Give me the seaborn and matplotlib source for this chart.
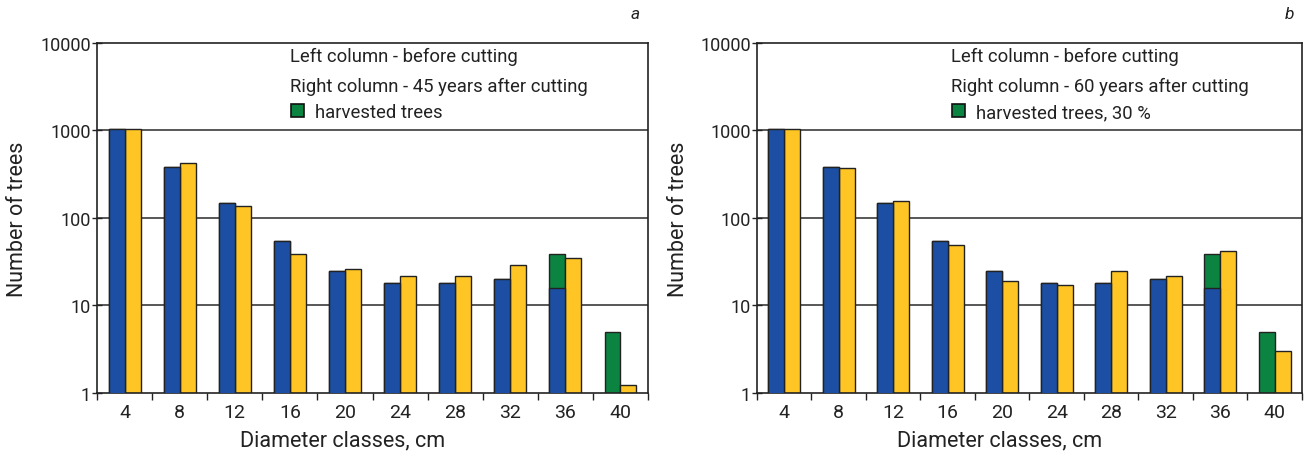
import numpy as np
import pandas as pd
import matplotlib
matplotlib.use("Agg")
import matplotlib.pyplot as plt
from matplotlib.patches import Patch
from matplotlib.ticker import FixedLocator, FixedFormatter, NullLocator
import seaborn as sns

# Diameter classes (cm)
diameters = ["4", "8", "12", "16", "20", "24", "28", "32", "36", "40"]

# Stand before cutting (total per class) and the part harvested
before_total = [1050, 385, 150, 54, 25, 18, 18, 20, 39, 5]
harvested = [0, 0, 0, 0, 0, 0, 0, 0, 23, 5]

# Stand after cutting
after_45 = [1050, 428, 138, 39, 26.4, 21.8, 22, 29, 35, 1.23]
after_60 = [1045, 370, 156, 48.5, 19, 17, 24.6, 21.5, 42, 3.0]

panel_letters = ["a", "b"]
right_column_text = ["Right column - 45 years after cutting",
                     "Right column - 60 years after cutting"]
harvest_text = ["harvested trees", "harvested trees, 30 %"]

BLUE = "#1c4fa3"
YELLOW = "#fec524"
GREEN = "#0b8442"
INK = "#222222"

sns.set_theme(style="white")
plt.rcParams["font.family"] = ["Roboto", "DejaVu Sans"]

fig = plt.figure(figsize=(13.06, 4.6), dpi=100)
axes = [fig.add_axes([0.0743, 0.1435, 0.4219, 0.7609]),
        fig.add_axes([0.5796, 0.1435, 0.4173, 0.7609])]

hue_order = ["before", "after"]

for i, (ax, after) in enumerate(zip(axes, [after_45, after_60])):
    remaining = [b - h for b, h in zip(before_total, harvested)]
    full = pd.DataFrame({
        "diameter": diameters * 2,
        "count": before_total + after,
        "column": ["before"] * len(diameters) + ["after"] * len(diameters),
    })
    kept = pd.DataFrame({
        "diameter": diameters,
        "count": remaining,
        "column": ["before"] * len(diameters),
    })
    kept = kept[kept["count"] > 0]

    ax.set_yscale("log")
    # horizontal decade lines behind the bars
    for level in [10, 100, 1000]:
        ax.axhline(level, color="#2a2a2a", lw=1.1, zorder=0)

    # full pre-cut stand in green (shows harvested part), after-cut in yellow
    sns.barplot(data=full, x="diameter", y="count", hue="column",
                hue_order=hue_order, order=diameters, dodge=True,
                palette={"before": GREEN, "after": YELLOW}, saturation=1,
                width=0.58, edgecolor=INK, linewidth=1.0,
                legend=False, ax=ax, zorder=2)
    # remaining (unharvested) trees in blue
    sns.barplot(data=kept, x="diameter", y="count", hue="column",
                hue_order=hue_order, order=diameters, dodge=True,
                palette={"before": BLUE, "after": YELLOW}, saturation=1,
                width=0.58, edgecolor=INK, linewidth=1.0,
                legend=False, ax=ax, zorder=3)

    ax.set_ylim(1, 10000)
    ax.set_xlim(-0.5, len(diameters) - 0.5)

    ax.yaxis.set_major_locator(FixedLocator([1, 10, 100, 1000, 10000]))
    ax.yaxis.set_major_formatter(FixedFormatter(["1", "10", "100", "1000", "10000"]))
    ax.yaxis.set_minor_locator(NullLocator())
    ax.tick_params(axis="y", which="major", direction="inout", length=7,
                   width=1, color=INK, labelsize=13, pad=1, left=True,
                   labelcolor=INK)

    ax.set_xticks(range(len(diameters)))
    ax.set_xticklabels(diameters)
    ax.xaxis.set_minor_locator(FixedLocator(np.arange(-0.5, len(diameters), 1.0)))
    ax.tick_params(axis="x", which="major", length=0, labelsize=14, pad=7,
                   labelcolor=INK)
    ax.tick_params(axis="x", which="minor", direction="out", length=5,
                   width=1, color=INK, bottom=True)

    for side in ["left", "right", "top", "bottom"]:
        ax.spines[side].set_visible(True)
        ax.spines[side].set_color(INK)
        ax.spines[side].set_linewidth(1.2)

    ax.set_xlabel("Diameter classes, cm", fontsize=15.5, color=INK)
    ax.set_ylabel("Number of trees", fontsize=15.5, color=INK)
    ax.xaxis.set_label_coords(0.445, -0.105)
    ax.yaxis.set_label_coords(-0.125, 0.5)

    # annotation block
    tx = 0.35 if i == 0 else 0.356
    ax.text(tx, 0.963, "Left column - before cutting", transform=ax.transAxes,
            fontsize=13.3, va="center", ha="left", color=INK)
    ax.text(tx, 0.877, right_column_text[i], transform=ax.transAxes,
            fontsize=13.3, va="center", ha="left", color=INK)
    ax.legend(handles=[Patch(facecolor=GREEN, edgecolor="#111111", linewidth=1.2,
                             label=harvest_text[i])],
              loc="center left", bbox_to_anchor=(tx + 0.002, 0.803),
              frameon=False, fontsize=13.3, handlelength=0.7, handleheight=0.7,
              handletextpad=0.6, borderpad=0, borderaxespad=0,
              labelcolor=INK)

    ax.text(0.985, 1.085, panel_letters[i], transform=ax.transAxes,
            fontsize=12.5, style="italic", ha="right", va="center", color=INK)

fig.savefig("out.png", dpi=100)
